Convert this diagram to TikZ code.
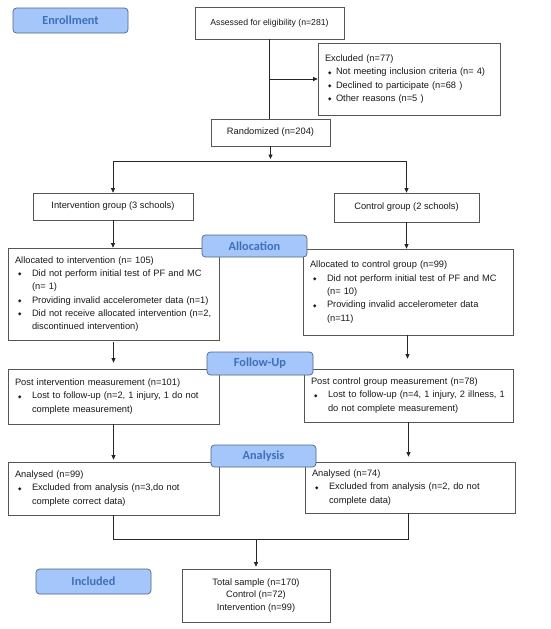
\documentclass[tikz,border=0pt]{standalone}
\usepackage{fontspec}
\setmainfont{Liberation Sans}
\newfontfamily\hdfont{Carlito}
\newfontfamily\dv{DejaVu Sans}
\usetikzlibrary{arrows.meta}
\definecolor{hdfill}{RGB}{164,198,250}
\definecolor{hdline}{RGB}{80,100,135}
\definecolor{hdtext}{RGB}{62,112,184}
\definecolor{boxline}{RGB}{85,85,85}
\newcommand\bl[1][17pt]{\makebox[#1][l]{\hspace{3pt}\raisebox{0.6pt}{\dv\fontsize{4.5}{4.5}\selectfont ◆}}}
\newcommand\ind[1][17pt]{\hspace*{#1}}
\tikzset{
  box/.style={draw=boxline, line width=0.7pt, inner xsep=7pt, inner ysep=0pt,
    font=\fontsize{9.3}{13.3}\selectfont, text=black!90},
  lbox/.style={box, align=left, inner xsep=5pt},
  hdr/.style={draw=hdline, line width=0.7pt, fill=hdfill, rounded corners=3.5pt,
    font=\hdfont\bfseries\fontsize{12.3}{13}\selectfont, text=hdtext, inner sep=0pt},
  conn/.style={line width=0.8pt, black!85},
  arr/.style={conn, -{Triangle[length=4.5pt,width=4pt]}},
}
\begin{document}
\begin{tikzpicture}[x=1pt,y=-1pt]
\useasboundingbox (0,0) rectangle (550,629);
% boxes
\node[box, minimum width=149pt, minimum height=32pt, font=\fontsize{8.7}{13.3}\selectfont] (assess) at (269.5,23) {Assessed for eligibility (n=281)};
\node[lbox, text width=172pt, minimum height=72pt] (excl) at (409,79) {\hspace*{2pt}Excluded (n=77)\\
\hspace*{2pt}\bl[11pt]Not meeting inclusion criteria (n= 4)\\
\hspace*{2pt}\bl[11pt]Declined to participate (n=68 )\\
\hspace*{2pt}\bl[11pt]Other reasons (n=5 )};
\node[box, minimum width=119pt, minimum height=27pt] (rand) at (270.5,132.5) {Randomized (n=204)};
\node[box, minimum width=160pt, minimum height=27pt] (intg) at (113,206.5) {Intervention group (3 schools)};
\node[box, minimum width=145pt, minimum height=29pt] (ctlg) at (406.5,207.5) {Control group (2 schools)};
\node[lbox, text width=201pt, minimum height=92pt] (alloci) at (113.5,294) {\hspace*{2pt}Allocated to intervention (n= 105)\\
\hspace*{2pt}\bl Did not perform initial test of PF and MC\\
\hspace*{2pt}\ind (n= 1)\\
\hspace*{2pt}\bl Providing invalid accelerometer data (n=1)\\
\hspace*{2pt}\bl Did not receive allocated intervention (n=2,\\
\hspace*{2pt}\ind discontinued intervention)};
\node[lbox, text width=200pt, minimum height=86pt] (allocc) at (408,292) {\hspace*{2pt}Allocated to control group (n=99)\\
\hspace*{2pt}\bl Did not perform initial test of PF and MC\\
\hspace*{2pt}\ind (n= 10)\\
\hspace*{2pt}\bl Providing invalid accelerometer data\\
\hspace*{2pt}\ind (n=11)};
\node[lbox, text width=201pt, minimum height=55pt] (posti) at (113.5,396.5) {\hspace*{2pt}Post intervention measurement (n=101)\\
\hspace*{2pt}\bl Lost to follow-up (n=2, 1 injury, 1 do not\\
\hspace*{2pt}\ind complete measurement)};
\node[lbox, text width=199pt, minimum height=53pt] (postc) at (408.5,395.5) {\hspace*{2pt}Post control group measurement (n=78)\\
\hspace*{2pt}\bl Lost to follow-up (n=4, 1 injury, 2 illness, 1\\
\hspace*{2pt}\ind do not complete measurement)};
\node[lbox, text width=201pt, minimum height=53pt] (anai) at (113.5,488.5) {\hspace*{2pt}Analysed (n=99)\\
\hspace*{2pt}\bl Excluded from analysis (n=3,do not\\
\hspace*{2pt}\ind complete correct data)};
\node[lbox, text width=200pt, minimum height=51pt] (anac) at (410,487.5) {\hspace*{2pt}Analysed (n=74)\\
\hspace*{2pt}\bl Excluded from analysis (n=2, do not\\
\hspace*{2pt}\ind complete data)};
\node[box, align=center, minimum width=148pt, minimum height=53pt, font=\fontsize{9.3}{12.5}\selectfont] (total) at (256,595.5) {Total sample (n=170)\\Control (n=72)\\Intervention (n=99)};
% coordinates
\coordinate (split) at (270,161);
\coordinate (merge) at (256,539);
% connectors
\draw[conn] (assess.south) -- (assess.south |- rand.north);
\draw[arr] (assess.south |- excl.west) -- (excl.west);
\draw[arr, shorten >=2pt] (rand.south) -- (rand.south |- split);
\draw[conn] (intg.north |- split) -- (ctlg.north |- split);
\draw[arr] (intg.north |- split) -- (intg.north);
\draw[arr] (ctlg.north |- split) -- (ctlg.north);
\draw[arr] (intg.south) -- (intg.south |- alloci.north);
\draw[arr] (ctlg.south) -- (ctlg.south |- allocc.north);
\draw[arr, shorten >=6pt, shorten <=2pt] (alloci.south) -- (alloci.south |- posti.north);
\draw[arr, shorten >=10pt] ([xshift=-0.5pt]allocc.south) -- ([xshift=-0.5pt]allocc.south |- postc.north);
\draw[arr, shorten >=2pt] (posti.south) -- (posti.south |- anai.north);
\draw[arr, shorten >=5pt] (postc.south) -- (postc.south |- anac.north);
\draw[conn] (anai.south) -- (anai.south |- merge) -- ([xshift=-2pt]anac.south |- merge) -- ([xshift=-2pt]anac.south);
\draw[arr, shorten >=2pt] (merge) -- (total.north);
% headers
\node[hdr, minimum width=115pt, minimum height=25pt] (enr) at (70.5,20.5) {Enrollment};
\node[hdr, minimum width=105pt, minimum height=22pt] (allo) at (254.5,246) {Allocation};
\node[hdr, minimum width=106pt, minimum height=23pt] (fol) at (260,363.5) {Follow-Up};
\node[hdr, minimum width=105pt, minimum height=22pt] (anal) at (263.5,456) {Analysis};
\node[hdr, minimum width=115pt, minimum height=25pt] (incl) at (93.5,581.5) {Included};
\end{tikzpicture}
\end{document}
